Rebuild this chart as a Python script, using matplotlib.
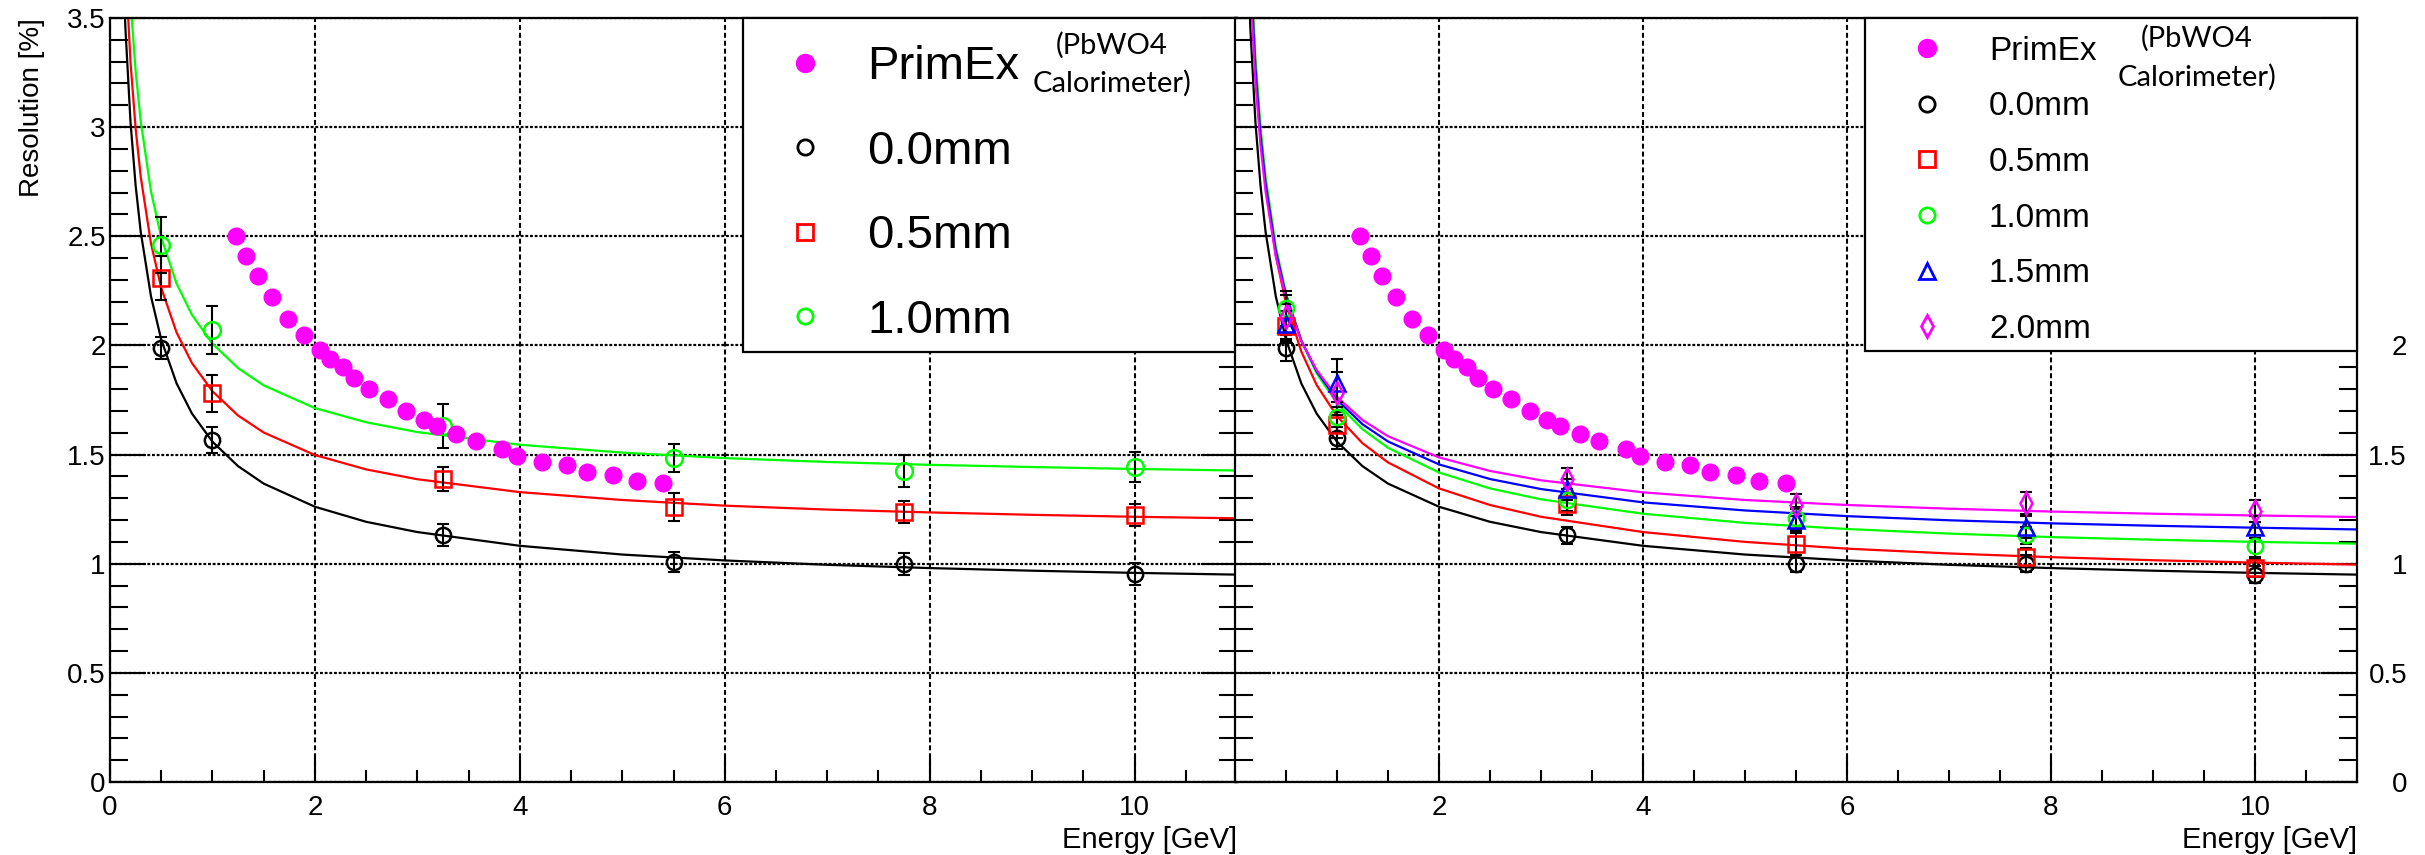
import matplotlib
matplotlib.use('Agg')
import matplotlib.pyplot as plt
from matplotlib.lines import Line2D
from matplotlib.patches import Rectangle
from matplotlib.ticker import MultipleLocator, FuncFormatter

plt.rcParams['font.family'] = ['Liberation Sans', 'DejaVu Sans']

# ------------------------------------------------------------ data
# beam energies of the simulated points [GeV]
energy = [0.5, 1.0, 3.25, 5.5, 7.75, 10.0]

# PrimEx (PbWO4 calorimeter) resolution
primex_e = [1.23, 1.33, 1.44, 1.58, 1.74, 1.89, 2.05, 2.15, 2.27, 2.38, 2.53, 2.71, 2.89,
            3.06, 3.19, 3.38, 3.57, 3.83, 3.97, 4.22, 4.46, 4.66, 4.91, 5.14, 5.40]
primex_res = [2.50, 2.41, 2.32, 2.22, 2.12, 2.05, 1.98, 1.94, 1.90, 1.85, 1.80, 1.755, 1.70,
              1.66, 1.63, 1.595, 1.56, 1.525, 1.495, 1.467, 1.45, 1.422, 1.405, 1.38, 1.368]

# left panel points
left_00 = [1.99, 1.567, 1.131, 1.008, 0.999, 0.953]
left_00_err = [0.05, 0.06, 0.05, 0.045, 0.05, 0.05]
left_05 = [2.31, 1.78, 1.388, 1.26, 1.237, 1.223]
left_05_err = [0.10, 0.085, 0.057, 0.065, 0.05, 0.05]
left_10 = [2.46, 2.07, 1.63, 1.484, 1.425, 1.443]
left_10_err = [0.13, 0.11, 0.10, 0.065, 0.075, 0.07]

# right panel points
right_00 = [1.99, 1.575, 1.13, 1.00, 1.00, 0.95]
right_00_err = [0.06, 0.05, 0.04, 0.04, 0.04, 0.04]
right_05 = [2.09, 1.635, 1.275, 1.09, 1.03, 0.98]
right_05_err = [0.07, 0.06, 0.05, 0.05, 0.04, 0.04]
right_10 = [2.17, 1.67, 1.29, 1.21, 1.13, 1.08]
right_10_err = [0.08, 0.07, 0.05, 0.05, 0.04, 0.05]
right_15 = [2.10, 1.83, 1.34, 1.20, 1.17, 1.17]
right_15_err = [0.09, 0.11, 0.05, 0.05, 0.05, 0.05]
right_20 = [2.13, 1.78, 1.39, 1.27, 1.28, 1.24]
right_20_err = [0.10, 0.10, 0.05, 0.05, 0.05, 0.05]

# fit curves
curve_e = [0.12, 0.15, 0.2, 0.25, 0.3, 0.4, 0.5, 0.65, 0.8, 1.0, 1.25, 1.5, 2, 2.5, 3,
           4, 5, 6, 7, 8, 9, 10, 11]
fit_00 = [3.841, 3.457, 3.025, 2.733, 2.520, 2.225, 2.027, 1.826, 1.688, 1.559, 1.447, 1.367,
          1.261, 1.192, 1.145, 1.082, 1.042, 1.015, 0.995, 0.980, 0.968, 0.958, 0.950]
fit_left_05 = [4.157, 3.753, 3.299, 2.994, 2.772, 2.467, 2.264, 2.059, 1.919, 1.790, 1.679, 1.601,
               1.498, 1.432, 1.387, 1.328, 1.292, 1.266, 1.248, 1.235, 1.224, 1.215, 1.208]
fit_left_10 = [4.487, 4.058, 3.579, 3.258, 3.026, 2.706, 2.495, 2.283, 2.140, 2.008, 1.896, 1.817,
               1.713, 1.648, 1.603, 1.545, 1.509, 1.484, 1.466, 1.453, 1.443, 1.434, 1.427]
fit_right_05 = [4.181, 3.761, 3.288, 2.968, 2.734, 2.410, 2.193, 1.972, 1.819, 1.676, 1.552, 1.464,
                1.345, 1.269, 1.215, 1.145, 1.100, 1.069, 1.047, 1.030, 1.016, 1.005, 0.996]
fit_right_10 = [4.205, 3.787, 3.318, 3.002, 2.771, 2.452, 2.238, 2.022, 1.873, 1.735, 1.616, 1.531,
                1.418, 1.345, 1.295, 1.229, 1.187, 1.159, 1.138, 1.122, 1.110, 1.100, 1.092]
fit_right_15 = [4.123, 3.719, 3.266, 2.961, 2.739, 2.432, 2.229, 2.022, 1.882, 1.751, 1.639, 1.560,
                1.455, 1.388, 1.342, 1.281, 1.244, 1.218, 1.199, 1.185, 1.174, 1.165, 1.157]
fit_right_20 = [4.039, 3.648, 3.211, 2.917, 2.704, 2.410, 2.216, 2.020, 1.887, 1.764, 1.658, 1.584,
                1.487, 1.425, 1.382, 1.327, 1.292, 1.269, 1.252, 1.239, 1.229, 1.221, 1.214]

W, H = 2425, 855
MAG = '#ff00ff'
GRN = '#00ff00'
RED = '#ff0000'
BLU = '#0000ff'

fig = plt.figure(figsize=(W / 100, H / 100), dpi=100)
ax1 = fig.add_axes([110 / W, 1 - 782 / H, (1237 - 110) / W, 764 / H])
ax2 = fig.add_axes([1235 / W, 1 - 782 / H, (2357 - 1235) / W, 764 / H])


def style_axis(ax):
    ax.set_xlim(0, 11)
    ax.set_ylim(0, 3.5)
    ax.xaxis.set_major_locator(MultipleLocator(2))
    ax.xaxis.set_minor_locator(MultipleLocator(0.5))
    ax.yaxis.set_major_locator(MultipleLocator(0.5))
    ax.yaxis.set_minor_locator(MultipleLocator(0.1))
    ax.yaxis.set_major_formatter(FuncFormatter(lambda v, p: '%g' % v))
    ax.tick_params(axis='y', which='major', direction='in', length=26, width=1.5,
                   left=True, right=True, labelsize=20, pad=3)
    ax.tick_params(axis='y', which='minor', direction='in', length=13, width=1.5,
                   left=True, right=True)
    ax.tick_params(axis='x', which='major', direction='in', length=18, width=1.5,
                   labelsize=20, pad=9)
    ax.tick_params(axis='x', which='minor', direction='in', length=9, width=1.5)
    for s in ax.spines.values():
        s.set_linewidth(1.6)
    ax.grid(True, axis='x', color='k', lw=1.5, linestyle=(0, (2.4, 1.4)))
    ax.grid(True, axis='y', color='k', lw=1.6, linestyle=(0, (1.3, 0.8)))
    ax.set_xlabel('Energy [GeV]', fontsize=21, loc='right', labelpad=4)


def draw_points(ax, vals, errs, marker, color, ms=11):
    ax.errorbar(energy, vals, yerr=errs, fmt='none', ecolor='k', elinewidth=1.5,
                capsize=4, capthick=1.5, zorder=3)
    ax.plot(energy, vals, ls='none', marker=marker, mfc='none', mec=color, mew=1.8,
            ms=ms, zorder=4)


# ------------------------------------------------------------ left panel
style_axis(ax1)
ax1.set_ylabel('Resolution [%]', fontsize=20, loc='top', labelpad=16)

ax1.plot(curve_e, fit_00, color='k', lw=1.6, zorder=2)
ax1.plot(curve_e, fit_left_05, color=RED, lw=1.6, zorder=2)
ax1.plot(curve_e, fit_left_10, color=GRN, lw=1.6, zorder=2)
draw_points(ax1, left_00, left_00_err, 'o', 'k')
draw_points(ax1, left_05, left_05_err, 's', RED)
draw_points(ax1, left_10, left_10_err, 'o', GRN, ms=12)
ax1.plot(primex_e, primex_res, ls='none', marker='o', color=MAG, ms=12, zorder=5)

# legend box
ax1.add_patch(Rectangle((0.5617, 0.5628), 1 - 0.5617, 1 - 0.5628, transform=ax1.transAxes,
                        facecolor='white', edgecolor='k', lw=1.6, zorder=10, clip_on=False))
h_left = [Line2D([], [], ls='none', marker='o', color=MAG, ms=13),
          Line2D([], [], ls='none', marker='o', mfc='none', mec='k', mew=2, ms=11),
          Line2D([], [], ls='none', marker='s', mfc='none', mec=RED, mew=2, ms=11),
          Line2D([], [], ls='none', marker='o', mfc='none', mec=GRN, mew=2, ms=11)]
leg1 = ax1.legend(h_left, ['PrimEx', '0.0mm', '0.5mm', '1.0mm'], loc='upper left',
                  bbox_to_anchor=(0.5958, 0.9646), frameon=False, fontsize=34,
                  handlelength=1.0, handletextpad=0.82, labelspacing=0.86,
                  borderpad=0, borderaxespad=0)
leg1.set_zorder(11)

# ------------------------------------------------------------ right panel
style_axis(ax2)
ax2.yaxis.set_major_formatter(FuncFormatter(lambda v, p: '%g' % v if v < 2.01 else ''))
ax2.tick_params(axis='y', which='major', labelleft=False, labelright=True, pad=36)
ax2.set_xticks([2, 4, 6, 8, 10])
for t in ax2.yaxis.get_major_ticks():
    t.label2.set_horizontalalignment('right')

ax2.plot(curve_e, fit_00, color='k', lw=1.6, zorder=2)
ax2.plot(curve_e, fit_right_05, color=RED, lw=1.6, zorder=2)
ax2.plot(curve_e, fit_right_10, color=GRN, lw=1.6, zorder=2)
ax2.plot(curve_e, fit_right_15, color=BLU, lw=1.6, zorder=2)
ax2.plot(curve_e, fit_right_20, color=MAG, lw=1.6, zorder=2)
draw_points(ax2, right_00, right_00_err, 'o', 'k')
draw_points(ax2, right_05, right_05_err, 's', RED)
draw_points(ax2, right_10, right_10_err, 'o', GRN)
draw_points(ax2, right_15, right_15_err, '^', BLU)
draw_points(ax2, right_20, right_20_err, 'd', MAG)
ax2.plot(primex_e, primex_res, ls='none', marker='o', color=MAG, ms=12, zorder=5)

ax2.add_patch(Rectangle((0.5615, 0.5641), 1 - 0.5615, 1 - 0.5641, transform=ax2.transAxes,
                        facecolor='white', edgecolor='k', lw=1.6, zorder=10, clip_on=False))
h_right = [Line2D([], [], ls='none', marker='o', color=MAG, ms=13),
           Line2D([], [], ls='none', marker='o', mfc='none', mec='k', mew=2, ms=11),
           Line2D([], [], ls='none', marker='s', mfc='none', mec=RED, mew=2, ms=11),
           Line2D([], [], ls='none', marker='o', mfc='none', mec=GRN, mew=2, ms=11),
           Line2D([], [], ls='none', marker='^', mfc='none', mec=BLU, mew=2, ms=11),
           Line2D([], [], ls='none', marker='d', mfc='none', mec=MAG, mew=2, ms=11)]
leg2 = ax2.legend(h_right, ['PrimEx', '0.0mm', '0.5mm', '1.0mm', '1.5mm', '2.0mm'],
                  loc='upper left', bbox_to_anchor=(0.6019, 0.977), frameon=False,
                  fontsize=24, handlelength=1.0, handletextpad=1.36, labelspacing=0.74,
                  borderpad=0, borderaxespad=0)
leg2.set_zorder(11)

# calorimeter note next to PrimEx
for cx, y1, y2 in [(1112, 45, 83), (2197, 38, 77)]:
    fig.text(cx / W, 1 - y1 / H, '(PbWO4', family=['Lato', 'DejaVu Sans'], fontsize=21,
             ha='center', va='center', zorder=12)
    fig.text(cx / W, 1 - y2 / H, 'Calorimeter)', family=['Lato', 'DejaVu Sans'], fontsize=21,
             ha='center', va='center', zorder=12)

fig.savefig('out.png', dpi=100)
